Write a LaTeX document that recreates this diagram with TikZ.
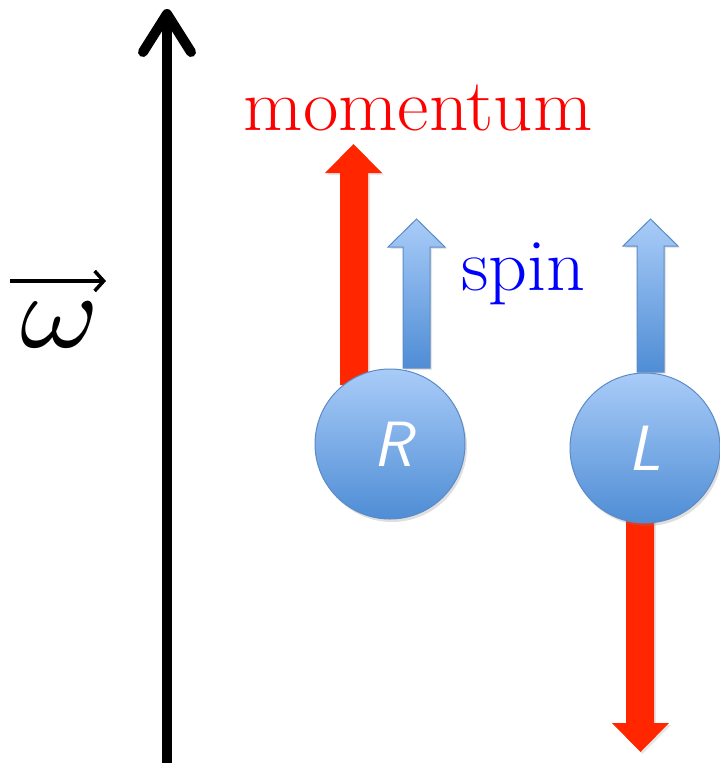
\documentclass[tikz,border=0pt]{standalone}
\usepackage{fontspec}
\usetikzlibrary{arrows.meta,shadows}
\definecolor{momred}{HTML}{FF2600}
\definecolor{spinlight}{HTML}{A9CCF8}
\definecolor{spindark}{HTML}{4F8DD5}
\definecolor{spinedge}{HTML}{5B8BC6}
\definecolor{txtred}{HTML}{FF0000}
\definecolor{txtblue}{HTML}{0000FF}
\begin{document}
\begin{tikzpicture}[x=1pt,y=-1pt,
  redarrow/.style={fill=momred,draw=none,drop shadow={opacity=0.2,shadow xshift=2pt,shadow yshift=-2pt}},
  spinarrow/.style={top color=spinlight,bottom color=spindark,draw=spinedge,line width=1pt,drop shadow={opacity=0.2,shadow xshift=2pt,shadow yshift=-2pt}},
  particle/.style={circle,minimum size=150pt,inner sep=0pt,top color=spinlight,bottom color=spindark,draw=spinedge,line width=1pt,text=white,font=\fontsize{64}{64}\selectfont\sffamily\itshape,drop shadow={opacity=0.25,shadow xshift=2pt,shadow yshift=-3pt}},
  axis/.style={line width=10pt},
  labeltext/.style={font=\fontsize{74}{74}\selectfont,inner sep=0pt,anchor=base}]
\useasboundingbox (0,0) rectangle (720,763);
% rotation axis
\coordinate (axbot) at (167,770);
\coordinate (axtip) at (167,14);
\coordinate (wl) at (143,52);
\coordinate (wr) at (191,52);
\draw[axis] (axbot) -- ([yshift=2pt]axtip);
\draw[axis,line cap=round,line join=round] (wl) -- (axtip) -- (wr);
% omega label
\node[inner sep=0pt] (om) at (60,325) {\scalebox{12}[10.5]{$\omega$}};
\coordinate (oa) at (10,281);
\coordinate (ob) at (106,281);
\draw[line width=4pt,-{Straight Barb[length=9pt,width=20pt,line width=3.5pt]}] (oa) -- (ob);
% R particle arrows
\path[redarrow] (340,385) -- (340,173) -- (325,173) -- (353.5,144) -- (382,173) -- (368,173) -- (368,385) -- cycle;
\node[particle] (R) at (390,444) {\hspace*{6pt}R};
\path[spinarrow] (403,368) -- (403,247) -- (388,247) -- (416.5,219) -- (445,247) -- (430,247) -- (430,368) -- cycle;
% L particle arrows
\path[redarrow] (626,510) -- (626,723) -- (612,723) -- (640.5,752) -- (669,723) -- (654,723) -- (654,510) -- cycle;
\path[spinarrow] (637,372) -- (637,246) -- (623,246) -- (650.5,219) -- (678,246) -- (664,246) -- (664,372) -- cycle;
\node[particle] (L) at (645,448) {L};
% labels
\node[labeltext,text=txtred,xscale=1.04] (mom) at (418,130) {momentum};
\node[labeltext,text=txtblue,anchor=base west,xscale=1.03] (spin) at (461,290) {spin};
\end{tikzpicture}
\end{document}
